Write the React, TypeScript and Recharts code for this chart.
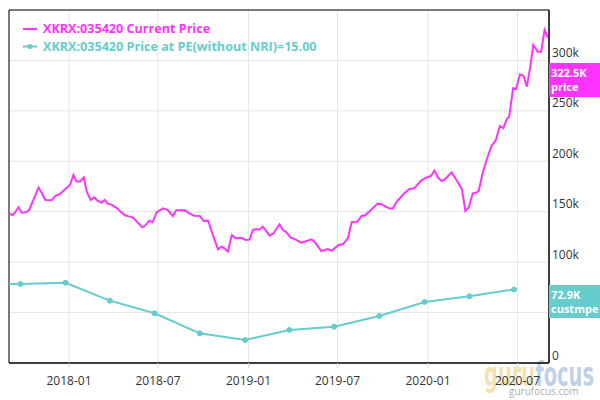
import React from 'react';
import { LineChart, Line, XAxis, YAxis, CartesianGrid, ReferenceArea } from 'recharts';

// daily close, thousands of KRW
const priceDates = [
  '2017-08-30', '2017-09-03', '2017-09-08', '2017-09-13', '2017-09-20', '2017-09-27', '2017-10-05', '2017-10-12',
  '2017-10-31', '2017-11-07', '2017-11-14', '2017-11-27', '2017-12-04', '2017-12-14', '2017-12-20',
  '2018-01-03', '2018-01-10', '2018-01-16', '2018-01-23', '2018-01-31', '2018-02-06', '2018-02-14', '2018-02-21',
  '2018-02-28', '2018-03-08', '2018-03-15', '2018-03-20', '2018-03-28', '2018-04-09', '2018-04-16', '2018-04-24',
  '2018-05-04', '2018-05-11', '2018-05-21', '2018-05-30', '2018-06-04', '2018-06-13', '2018-06-20', '2018-06-28',
  '2018-07-11', '2018-07-21', '2018-07-31', '2018-08-07', '2018-08-24', '2018-09-03', '2018-09-12', '2018-09-24',
  '2018-10-02', '2018-10-11', '2018-10-17', '2018-10-31', '2018-11-07', '2018-11-13', '2018-11-20', '2018-11-28',
  '2018-12-06', '2018-12-17', '2018-12-26',
  '2019-01-03', '2019-01-10', '2019-01-17', '2019-01-22', '2019-01-30', '2019-02-13', '2019-02-21', '2019-03-05',
  '2019-03-12', '2019-03-19', '2019-03-28', '2019-04-05', '2019-04-18', '2019-04-28', '2019-05-09', '2019-05-15',
  '2019-05-29', '2019-06-05', '2019-06-11', '2019-06-19', '2019-07-03', '2019-07-12', '2019-07-22', '2019-07-30',
  '2019-08-10', '2019-08-19', '2019-08-26', '2019-09-07', '2019-09-20', '2019-09-27', '2019-10-14', '2019-10-21',
  '2019-10-31', '2019-11-14', '2019-11-24', '2019-12-04', '2019-12-18', '2019-12-28',
  '2020-01-07', '2020-01-14', '2020-01-21', '2020-01-28', '2020-02-03', '2020-02-18', '2020-03-01', '2020-03-10',
  '2020-03-17', '2020-03-24', '2020-04-01', '2020-04-08', '2020-04-13', '2020-04-21', '2020-04-29', '2020-05-09',
  '2020-05-18', '2020-05-26', '2020-06-02', '2020-06-09', '2020-06-14', '2020-06-22', '2020-06-28', '2020-07-06',
  '2020-07-13', '2020-07-20', '2020-07-27', '2020-08-02', '2020-08-11', '2020-08-18', '2020-08-25', '2020-09-01',
];
const priceValues = [
  148, 147.7, 146.7, 149.0, 154.4, 149.0, 149.4, 151.7,
  173.8, 168.3, 161.6, 161.3, 165.6, 167.6, 170.5,
  176.5, 186.4, 180.2, 179.8, 184.1, 169.8, 161.6, 164.3,
  160.9, 158.9, 161.6, 158.3, 157.0, 153.4, 150.0, 146.7,
  145.1, 144.1, 139.1, 134.6, 135.8, 141.1, 139.5, 149.4,
  153.4, 151.7, 145.8, 151.4, 151.4, 148.4, 146.0, 145.8,
  140.8, 141.1, 131.9, 112.7, 115.3, 113.7, 110.4, 126.9,
  123.6, 124.2, 122.0,
  122.3, 131.9, 132.9, 131.9, 135.1, 126.2, 128.6, 137.5,
  131.9, 129.6, 124.2, 122.9, 119.3, 120.7, 122.6, 120.3,
  111.0, 112.0, 113.0, 111.3, 117.0, 117.7, 123.6, 139.8,
  140.1, 145.8, 146.4, 151.7, 157.9, 157.6, 153.4, 153.0,
  160.9, 168.3, 172.5, 173.2, 180.8, 183.7,
  185.4, 190.7, 184.1, 180.5, 181.4, 189.1, 179.8, 172.2,
  150.7, 154.4, 168.3, 168.9, 170.5, 188.1, 201.3, 215.2,
  221.1, 235.0, 232.7, 241.6, 244.2, 272.4, 271.7, 286.2,
  284.9, 274.0, 293.8, 315.3, 308.7, 308.7, 330.2, 322.5,
];

// price at PE(without NRI)=15, quarterly
const peDates = [
  '2017-06-24', '2017-09-24', '2017-12-25', '2018-03-25', '2018-06-24', '2018-09-24', '2018-12-25',
  '2019-03-25', '2019-06-24', '2019-09-24', '2019-12-25', '2020-03-25', '2020-06-24',
];
const peValues = [78.0, 78.3, 79.6, 61.8, 49.3, 29.4, 22.8, 32.7, 36.0, 46.6, 60.5, 66.1, 72.9];

const xTickDates = ['2018-01-01', '2018-07-01', '2019-01-01', '2019-07-01', '2020-01-01', '2020-07-01'];
const yTicks = [0, 50, 100, 150, 200, 250, 300];
const xStart = '2017-09-01';
const xEnd = '2020-09-03';
const yMax = 350;

const MAGENTA = '#ff33ff';
const TEAL = '#66cccc';
const FONT = '"Open Sans", sans-serif';

const toTime = (d: string) => Date.parse(d);
const priceData = priceDates.map((d, i) => ({ t: toTime(d), v: priceValues[i] }));
const peData = peDates.map((d, i) => ({ t: toTime(d), v: peValues[i] }));
const xTicks = xTickDates.map(toTime);
const xDomain = [toTime(xStart), toTime(xEnd)];

const fmtMonth = (t: number) => {
  const d = new Date(t);
  return `${d.getUTCFullYear()}-${String(d.getUTCMonth() + 1).padStart(2, '0')}`;
};

const XTick = ({ x, y, payload }: any) => (
  <text x={x} y={y + 17} textAnchor="middle" fill="#333" fontSize={12} fontFamily={FONT}>
    {fmtMonth(payload.value)}
  </text>
);

const YTick = ({ x, y, payload }: any) => (
  <text x={x} y={y - 3.5} textAnchor="start" fill="#333" fontSize={12} fontFamily={FONT}>
    {payload.value === 0 ? '0' : `${payload.value}k`}
  </text>
);

// legend + last value tags, drawn over the chart
function Overlay() {
  return (
    <svg width={600} height={400} style={{ position: 'absolute', left: 0, top: 0, pointerEvents: 'none' }}>
      <g fontFamily={FONT} fontWeight={700} fontSize={12.6}>
        <line x1={23} x2={37} y1={29} y2={29} stroke={MAGENTA} strokeWidth={2} />
        <text x={43} y={33} fill={MAGENTA}>XKRX:035420 Current Price</text>
        <line x1={23} x2={37} y1={46.5} y2={46.5} stroke={TEAL} strokeWidth={2} />
        <circle cx={30} cy={46.5} r={2.5} fill={TEAL} />
        <text x={43} y={50.5} fill={TEAL}>XKRX:035420 Price at PE(without NRI)=15.00</text>
      </g>
      <g fontFamily={FONT} fontWeight={700} fontSize={11} fill="#fff">
        <rect x={549} y={63} width={51} height={34} fill={MAGENTA} />
        <text x={551} y={77}>322.5K</text>
        <text x={551} y={91}>price</text>
        <rect x={549} y={285} width={51} height={33} fill={TEAL} />
        <text x={551} y={299}>72.9K</text>
        <text x={551} y={313}>custmpe</text>
      </g>
    </svg>
  );
}

function Watermark() {
  return (
    <svg width={600} height={400} style={{ position: 'absolute', left: 0, top: 0 }}>
      <text
        x={484}
        y={386}
        fontFamily='"DejaVu Sans Condensed", "DejaVu Sans", sans-serif'
        fontWeight={700}
        fontSize={33}
        textLength={110}
        lengthAdjust="spacingAndGlyphs"
      >
        <tspan fill="rgba(236, 200, 110, 0.55)">guru</tspan>
        <tspan fill="rgba(110, 150, 200, 0.45)">focus</tspan>
      </text>
      <text x={509} y={395} fontFamily={FONT} fontSize={10} fill="rgba(110, 110, 110, 0.6)">gurufocus.com</text>
    </svg>
  );
}

export default function App() {
  return (
    <div style={{ position: 'absolute', left: 0, top: 0, width: 600, height: 400, background: '#fff' }}>
      <Watermark />
      <div style={{ position: 'absolute', left: 0, top: 0 }}>
        <LineChart width={600} height={400} margin={{ top: 10, right: 10, bottom: 7, left: 9 }}>
          <CartesianGrid stroke="#e6e6e6" />
          <XAxis
            dataKey="t"
            type="number"
            domain={xDomain}
            allowDataOverflow
            ticks={xTicks}
            interval={0}
            height={30}
            axisLine={{ stroke: '#000' }}
            tickLine={{ stroke: '#ccd6eb' }}
            tickSize={5}
            tickMargin={0}
            tick={<XTick />}
          />
          <YAxis
            orientation="right"
            type="number"
            domain={[0, yMax]}
            ticks={yTicks}
            interval={0}
            width={41}
            axisLine={{ stroke: '#000' }}
            tickLine={false}
            tickSize={0}
            tickMargin={3}
            tick={<YTick />}
          />
          <ReferenceArea x1={xDomain[0]} x2={xDomain[1]} y1={0} y2={yMax} fill="none" stroke="#000" strokeWidth={1} />
          <Line
            data={peData}
            dataKey="v"
            type="linear"
            stroke={TEAL}
            strokeWidth={2}
            dot={{ r: 2.5, fill: TEAL, stroke: TEAL, strokeWidth: 1 }}
            isAnimationActive={false}
          />
          <Line
            data={priceData}
            dataKey="v"
            type="linear"
            stroke={MAGENTA}
            strokeWidth={2}
            dot={false}
            isAnimationActive={false}
          />
        </LineChart>
      </div>
      <Overlay />
    </div>
  );
}
